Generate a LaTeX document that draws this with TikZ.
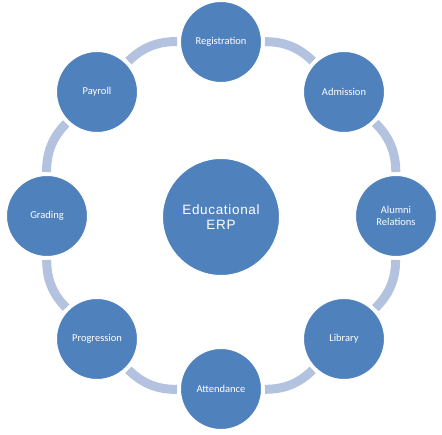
\documentclass[tikz,border=0pt]{standalone}
\usepackage{fontspec}
\setmainfont{Carlito}
\newfontfamily\titlefont[LetterSpace=5]{Liberation Sans}
\definecolor{erpblue}{HTML}{4F81BD}
\definecolor{ringblue}{HTML}{B3C2DE}
\tikzset{
  module/.style={shape=circle,fill=erpblue,draw=white,line width=1pt,minimum size=81pt,inner sep=0pt,
    text=white,font=\fontsize{10.5}{12}\selectfont,align=center},
  hub/.style={module,minimum size=117pt,font=\titlefont\fontsize{13.5}{14.5}\selectfont},
  ring/.style={draw=ringblue,line width=9pt,shorten <=3pt,shorten >=3pt}
}

\begin{document}
\begin{tikzpicture}[x=1pt,y=1pt]
      \useasboundingbox (0,0) rectangle (442,435);
      \node[hub] (erp) at (221,218) {Educational\\ERP};
      \node[module] (reg) at (221,393) {Registration};
      \node[module] (adm) at (344,343) {Admission};
      \node[module] (alu) at (396,219) {Alumni\\Relations};
      \node[module] (lib) at (344,96) {Library};
      \node[module] (att) at (221,46) {Attendance};
      \node[module] (pro) at (97,96) {Progression};
      \node[module] (gra) at (47,219) {Grading};
      \node[module] (pay) at (97,343) {Payroll};
      \path [ring](reg) to[bend left=22.5] (adm) ;
      \path [ring](adm) to[bend left=22.5] (alu) ;
      \path [ring](alu) to[bend left=22.5] (lib) ;
      \path [ring](lib) to[bend left=22.5] (att) ;
      \path [ring](att) to[bend left=22.5] (pro) ;
      \path [ring](pro) to[bend left=22.5] (gra) ;
      \path [ring](gra) to[bend left=22.5] (pay) ;
      \path [ring](pay) to[bend left=22.5] (reg) ;

    \end{tikzpicture}
\end{document}
